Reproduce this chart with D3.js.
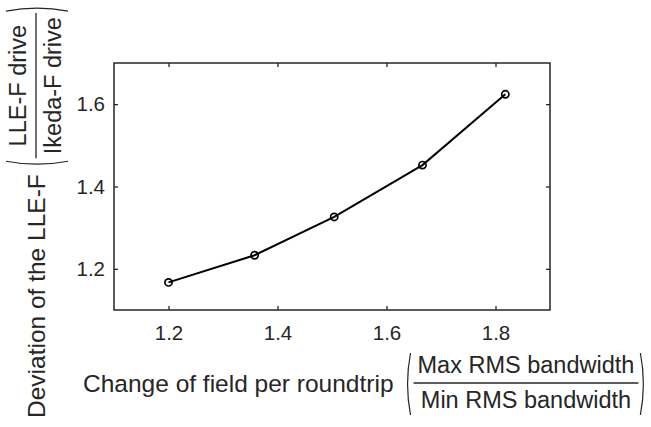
<!DOCTYPE html>
<html>
<head>
<meta charset="utf-8">
<script src="https://cdn.jsdelivr.net/npm/d3@7"></script>
<style>
  html, body { margin: 0; padding: 0; background: #fff; }
  svg { display: block; font-family: "Liberation Sans", Arial, sans-serif; }
</style>
</head>
<body>
<svg id="chart" width="651" height="427"></svg>
<script>
// ---- data ----
const xValues = [1.2, 1.358, 1.504, 1.666, 1.818];
const yValues = [1.167, 1.233, 1.326, 1.452, 1.624];
const xTicks = [1.2, 1.4, 1.6, 1.8];
const yTicks = [1.2, 1.4, 1.6];
const xLabelMain = "Change of field per roundtrip";
const xLabelNum = "Max RMS bandwidth";
const xLabelDen = "Min RMS bandwidth";
const yLabelMain = "Deviation of the LLE-F";
const yLabelNum = "LLE-F drive";
const yLabelDen = "Ikeda-F drive";

const svg = d3.select("#chart");
const pL = 114, pR = 550, pT = 63, pB = 310;
const x = d3.scaleLinear().domain([1.1, 1.9]).range([pL, pR]);
const y = d3.scaleLinear().domain([1.1, 1.7]).range([pB, pT]);
const axisColor = "#262626";

// axes
const gx = svg.append("g").attr("transform", `translate(0,${pB})`)
  .call(d3.axisBottom(x).tickValues(xTicks).tickSize(-4).tickPadding(15).tickFormat(d3.format(".1f")));
const gxt = svg.append("g").attr("transform", `translate(0,${pT})`)
  .call(d3.axisTop(x).tickValues(xTicks).tickSize(-4).tickFormat(""));
const gy = svg.append("g").attr("transform", `translate(${pL},0)`)
  .call(d3.axisLeft(y).tickValues(yTicks).tickSize(-4).tickPadding(9).tickFormat(d3.format(".1f")));
const gyr = svg.append("g").attr("transform", `translate(${pR},0)`)
  .call(d3.axisRight(y).tickValues(yTicks).tickSize(-4).tickFormat(""));
[gx, gxt, gy, gyr].forEach(g => {
  g.select(".domain").remove();
  g.selectAll(".tick line").attr("stroke", axisColor).attr("stroke-width", 1.3);
  g.selectAll(".tick text").attr("fill", axisColor).attr("font-size", 20.5)
    .attr("font-family", "Liberation Sans, Arial, sans-serif");
});
svg.append("rect").attr("x", pL).attr("y", pT)
  .attr("width", pR - pL).attr("height", pB - pT)
  .attr("fill", "none").attr("stroke", axisColor).attr("stroke-width", 1.5);

// line + markers
const pts = xValues.map((v, i) => [v, yValues[i]]);
svg.append("path").datum(pts)
  .attr("fill", "none").attr("stroke", "#000").attr("stroke-width", 2)
  .attr("d", d3.line().x(d => x(d[0])).y(d => y(d[1])));
svg.selectAll("circle.m").data(pts).join("circle").attr("class", "m")
  .attr("cx", d => x(d[0])).attr("cy", d => y(d[1])).attr("r", 3.6)
  .attr("fill", "none").attr("stroke", "#000").attr("stroke-width", 1.7);

// composite label: main text, (num/den)
function compositeLabel(g, main, num, den, mainSize, fracSize, gap) {
  const t = g.append("text").attr("x", 0).attr("y", 0).attr("font-size", mainSize)
    .attr("fill", axisColor).text(main);
  const w = t.node().getComputedTextLength();
  const barY = -9;
  const p1 = w + gap;
  const fracStart = p1 + 6;
  const nt = g.append("text").attr("y", barY - 10).attr("font-size", fracSize)
    .attr("fill", axisColor).attr("text-anchor", "middle").text(num);
  const dt = g.append("text").attr("y", barY + 25).attr("font-size", fracSize)
    .attr("fill", axisColor).attr("text-anchor", "middle").text(den);
  const fw = Math.max(nt.node().getComputedTextLength(), dt.node().getComputedTextLength()) + 8;
  const cx = fracStart + fw / 2;
  nt.attr("x", cx); dt.attr("x", cx);
  g.append("line").attr("x1", fracStart).attr("x2", fracStart + fw)
    .attr("y1", barY).attr("y2", barY).attr("stroke", axisColor).attr("stroke-width", 1.3);
  const p2 = fracStart + fw + 5;
  const ptop = barY - 30, pbot = barY + 32;
  g.append("path").attr("fill", "none").attr("stroke", axisColor).attr("stroke-width", 1.2)
    .attr("d", `M${p1 + 3},${ptop} Q${p1 - 3},${(ptop + pbot) / 2} ${p1 + 3},${pbot}`);
  g.append("path").attr("fill", "none").attr("stroke", axisColor).attr("stroke-width", 1.2)
    .attr("d", `M${p2 - 3},${ptop} Q${p2 + 3},${(ptop + pbot) / 2} ${p2 - 3},${pbot}`);
}

compositeLabel(svg.append("g").attr("transform", "translate(83,392)"),
  xLabelMain, xLabelNum, xLabelDen, 24.5, 23.5, 14);
compositeLabel(svg.append("g").attr("transform", "translate(45,418) rotate(-90)"),
  yLabelMain, yLabelNum, yLabelDen, 24.5, 23.5, 10);
</script>
</body>
</html>
